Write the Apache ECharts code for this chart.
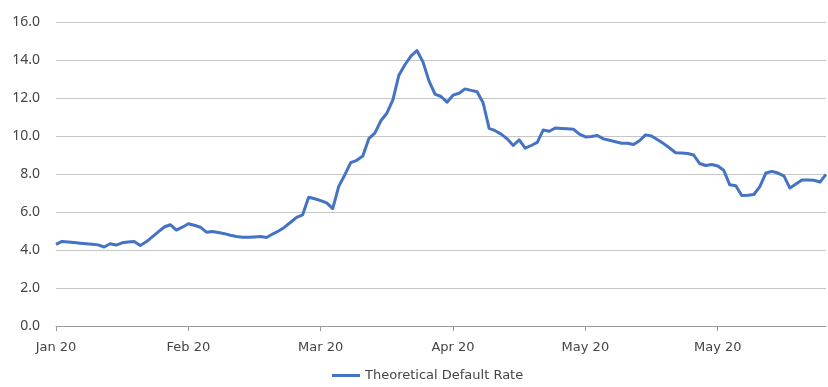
<!DOCTYPE html>
<html>
<head>
<meta charset="utf-8">
<script src="https://cdn.jsdelivr.net/npm/echarts@6/dist/echarts.min.js"></script>
<style>
  html, body { margin: 0; padding: 0; background: #ffffff; }
  #chart { width: 828px; height: 387px; }
</style>
</head>
<body>
<div id="chart"></div>
<script>
// Month labels shown under every 22nd trading day
const tickLabels = ['Jan 20', 'Feb 20', 'Mar 20', 'Apr 20', 'May 20', 'May 20'];
const labelEvery = 22;

// Theoretical default rate (%), one value per trading day
const defaultRate = [
  4.30, 4.45, 4.42, 4.39, 4.36, 4.33, 4.30, 4.27, 4.16, 4.33,
  4.26, 4.38, 4.42, 4.45, 4.24, 4.43, 4.69, 4.95, 5.21, 5.33,
  5.05, 5.20, 5.38, 5.30, 5.20, 4.94, 4.97, 4.92, 4.86, 4.78,
  4.71, 4.67, 4.67, 4.69, 4.71, 4.66, 4.84, 5.00, 5.20, 5.46,
  5.72, 5.85, 6.78, 6.70, 6.60, 6.48, 6.18, 7.35, 7.95, 8.60,
  8.72, 8.95, 9.86, 10.15, 10.80, 11.20, 11.90, 13.20, 13.75, 14.20,
  14.50, 13.90, 12.90, 12.20, 12.08, 11.78, 12.15, 12.25, 12.48, 12.40,
  12.33, 11.75, 10.40, 10.28, 10.10, 9.85, 9.50, 9.80, 9.36, 9.50,
  9.66, 10.32, 10.25, 10.42, 10.40, 10.38, 10.36, 10.10, 9.95, 9.97,
  10.03, 9.85, 9.78, 9.70, 9.62, 9.62, 9.55, 9.75, 10.06, 10.00,
  9.80, 9.60, 9.37, 9.12, 9.10, 9.08, 9.00, 8.55, 8.45, 8.50,
  8.42, 8.20, 7.43, 7.38, 6.87, 6.88, 6.92, 7.34, 8.05, 8.14,
  8.05, 7.90, 7.26, 7.47, 7.68, 7.68, 7.67, 7.57, 7.98
];

const days = defaultRate.map((_, i) => i);
const textColor = '#454545';
const numFont = '"Noto Sans", sans-serif';
const wordFont = '"DejaVu Sans", sans-serif';
const showTick = (i) => i % labelEvery === 0 && i < labelEvery * tickLabels.length;

const chart = echarts.init(document.getElementById('chart'), null, { renderer: 'canvas' });
chart.setOption({
  animation: false,
  grid: { left: 56, right: 2, top: 22, bottom: 61 },
  legend: {
    bottom: 0,
    left: 327,
    itemWidth: 28,
    itemHeight: 3,
    itemGap: 10,
    icon: 'rect',
    textStyle: { color: textColor, fontSize: 13, fontFamily: wordFont },
    data: ['Theoretical Default Rate']
  },
  xAxis: {
    type: 'category',
    data: days,
    boundaryGap: false,
    axisLine: { lineStyle: { color: '#9a9a9a', width: 1 } },
    axisTick: {
      show: true,
      interval: showTick,
      length: 5,
      lineStyle: { color: '#9a9a9a' }
    },
    axisLabel: {
      interval: showTick,
      formatter: (v, i) => tickLabels[i / labelEvery] || '',
      color: textColor,
      fontSize: 13,
      fontFamily: wordFont,
      margin: 15
    },
    splitLine: { show: false }
  },
  yAxis: {
    type: 'value',
    min: 0,
    max: 16,
    interval: 2,
    axisLine: { show: false },
    axisTick: { show: false },
    axisLabel: {
      formatter: (v) => v.toFixed(1),
      color: textColor,
      fontSize: 14,
      fontFamily: numFont,
      margin: 16
    },
    splitLine: { lineStyle: { color: '#c6c6c6', width: 1 } }
  },
  series: [{
    name: 'Theoretical Default Rate',
    type: 'line',
    data: defaultRate,
    symbol: 'none',
    smooth: false,
    itemStyle: { color: '#4472c4' },
    lineStyle: { color: '#4472c4', width: 3, join: 'round' }
  }]
});
</script>
</body>
</html>
